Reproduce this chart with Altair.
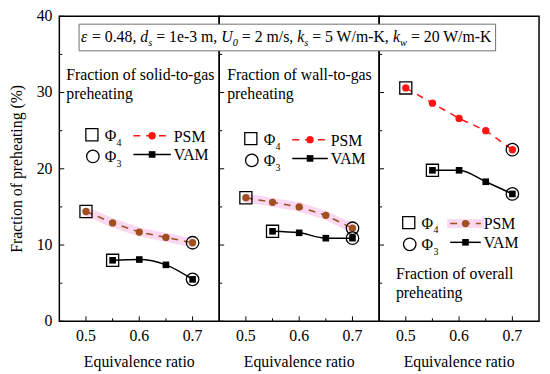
import altair as alt
import pandas as pd

# ---------------- data ----------------
phi = [0.5, 0.55, 0.6, 0.65, 0.7]
psm_solid = [14.4, 12.9, 11.7, 11.0, 10.3]
vam_solid = [8.0, 8.1, 7.4, 5.5]          # phi = 0.55 ... 0.7
psm_wall = [16.2, 15.6, 15.0, 13.9, 12.2]
vam_wall = [11.8, 11.6, 10.9, 10.9]
psm_overall = [30.6, 28.6, 26.6, 25.0, 22.5]
vam_overall = [19.8, 19.8, 18.3, 16.7]

x_major = [0.5, 0.6, 0.7]
x_minor = [0.55, 0.65]
y_major = [0, 10, 20, 30, 40]
y_minor = [5, 15, 25, 35]

panel_text = [["Fraction of solid-to-gas", "preheating"],
              ["Fraction of wall-to-gas", "preheating"],
              ["Fraction of overall", "preheating"]]
series_names = ["PSM", "VAM"]
marker_names = [("Φ", "4"), ("Φ", "3")]
x_title = "Equivalence ratio"
y_title = "Fraction of preheating (%)"
# annotation: (text, subscript?, italic?)
ann_parts = [("ε", False, True), (" = 0.48, ", False, False),
             ("d", False, True), ("s", True, True), (" = 1e-3 m, ", False, False),
             ("U", False, True), ("0", True, True), (" = 2 m/s, ", False, False),
             ("k", False, True), ("s", True, True), (" = 5 W/m-K, ", False, False),
             ("k", False, True), ("w", True, True), (" = 20 W/m-K", False, False)]

# ---------------- style ----------------
W, H = 162, 309
FONT = "Liberation Serif"
BROWN = "#a0501e"
RED = "#ff1414"
PINK = "#fbd8f1"

# Times / Liberation Serif advance widths (per 1000 em) used to place annotation pieces
CW = {" ": 250, ",": 250, ".": 250, "-": 333, "/": 278, "=": 564, "e": 444, "m": 778,
      "s": 389, "W": 944, "K": 722, "U": 722, "d": 500, "k": 444, "w": 667, "ε": 440}


def text_width(s, size):
    return sum(CW.get(c, 500) for c in s) * size / 1000.0


xs = alt.Scale(domain=[0.45, 0.75], nice=False, zero=False)
ys = alt.Scale(domain=[0, 40], nice=False)
one = pd.DataFrame({"d": [0]})


def txt(s, x, y, size=16, italic=False, color="black", align="left", angle=0, baseline="alphabetic"):
    return alt.Chart(one).mark_text(
        text=s, font=FONT, fontSize=size, align=align, baseline=baseline, angle=angle,
        fontStyle="italic" if italic else "normal", color=color
    ).encode(x=alt.value(x), y=alt.value(y))


def legend(ox, oy, line_len, color, pink):
    L = []
    L.append(alt.Chart(one).mark_point(shape="square", size=150, filled=False, color="black",
                                       strokeWidth=1.3, opacity=1).encode(x=alt.value(ox), y=alt.value(oy)))
    L.append(alt.Chart(one).mark_point(shape="circle", size=160, filled=False, color="black",
                                       strokeWidth=1.3, opacity=1).encode(x=alt.value(ox + 1), y=alt.value(oy + 22)))
    L.append(txt(marker_names[0][0], ox + 13, oy + 6))
    L.append(txt(marker_names[0][1], ox + 25, oy + 11, size=10))
    L.append(txt(marker_names[1][0], ox + 13, oy + 28))
    L.append(txt(marker_names[1][1], ox + 25, oy + 33, size=10))
    lx0 = ox + 42
    lx1 = lx0 + line_len
    if pink:
        L.append(alt.Chart(one).mark_rule(color=PINK, strokeWidth=9).encode(
            x=alt.value(lx0 - 3), x2=alt.value(lx1 + 3), y=alt.value(oy + 1)))
    L.append(alt.Chart(one).mark_rule(color=color, strokeWidth=1.5, strokeDash=[7, 6]).encode(
        x=alt.value(lx0), x2=alt.value(lx1), y=alt.value(oy + 1)))
    L.append(alt.Chart(one).mark_point(shape="circle", size=55, filled=True, color=color, opacity=1).encode(
        x=alt.value((lx0 + lx1) / 2), y=alt.value(oy + 1)))
    L.append(txt(series_names[0], lx1 + 3, oy + 7))
    L.append(alt.Chart(one).mark_rule(color="black", strokeWidth=1.5).encode(
        x=alt.value(lx0), x2=alt.value(lx1), y=alt.value(oy + 20)))
    L.append(alt.Chart(one).mark_point(shape="square", size=45, filled=True, color="black", opacity=1).encode(
        x=alt.value((lx0 + lx1) / 2), y=alt.value(oy + 20)))
    L.append(txt(series_names[1], lx1 + 3, oy + 26))
    return L


def panel(psm, vam, k, psm_color, leg_color, band, leg_pos, leg_len, text_pos, first, extra=None):
    psm_df = pd.DataFrame({"phi": phi, "v": psm})
    vam_df = pd.DataFrame({"phi": phi[1:], "v": vam})
    sq_df = pd.DataFrame({"phi": [phi[0], phi[1]], "v": [psm[0], vam[0]]})
    ci_df = pd.DataFrame({"phi": [phi[-1], phi[-1]], "v": [psm[-1], vam[-1]]})

    X = alt.X("phi:Q", scale=xs, axis=None)
    Y = alt.Y("v:Q", scale=ys, axis=None)

    layers = []
    if band:
        layers.append(alt.Chart(psm_df).mark_line(color=PINK, strokeWidth=9).encode(x=X, y=Y))
    layers.append(alt.Chart(psm_df).mark_line(color=psm_color, strokeWidth=1.5, strokeDash=[7, 6]).encode(x=X, y=Y))
    layers.append(alt.Chart(psm_df).mark_point(shape="circle", size=55, filled=True, color=psm_color, opacity=1).encode(x=X, y=Y))
    layers.append(alt.Chart(vam_df).mark_line(color="black", strokeWidth=1.5, interpolate="monotone").encode(x=X, y=Y))
    layers.append(alt.Chart(vam_df).mark_point(shape="square", size=45, filled=True, color="black", opacity=1).encode(x=X, y=Y))
    layers.append(alt.Chart(sq_df).mark_point(shape="square", size=150, filled=False, color="black", strokeWidth=1.3, opacity=1).encode(x=X, y=Y))
    layers.append(alt.Chart(ci_df).mark_point(shape="circle", size=160, filled=False, color="black", strokeWidth=1.3, opacity=1).encode(x=X, y=Y))

    # inward ticks
    layers.append(alt.Chart(pd.DataFrame({"v": y_major})).mark_rule(color="black", strokeWidth=1).encode(
        y=Y, x=alt.value(0), x2=alt.value(5)))
    layers.append(alt.Chart(pd.DataFrame({"v": y_minor})).mark_rule(color="black", strokeWidth=1).encode(
        y=Y, x=alt.value(0), x2=alt.value(3)))
    layers.append(alt.Chart(pd.DataFrame({"phi": x_major})).mark_rule(color="black", strokeWidth=1).encode(
        x=X, y=alt.value(H), y2=alt.value(H - 5)))
    layers.append(alt.Chart(pd.DataFrame({"phi": x_minor})).mark_rule(color="black", strokeWidth=1).encode(
        x=X, y=alt.value(H), y2=alt.value(H - 3)))

    # axis labels and titles (serif, as in the reference)
    layers.append(alt.Chart(pd.DataFrame({"phi": x_major})).mark_text(
        font=FONT, fontSize=16, color="black", baseline="alphabetic", align="center").encode(
        x=X, y=alt.value(H + 20), text=alt.Text("phi:Q", format=".1f")))
    layers.append(txt(x_title, W / 2, H + 46, align="center"))
    if first:
        layers.append(alt.Chart(pd.DataFrame({"v": y_major})).mark_text(
            font=FONT, fontSize=16, color="black", baseline="middle", align="right").encode(
            y=Y, x=alt.value(-7), text=alt.Text("v:Q", format="d")))
        layers.append(txt(y_title, -43, H / 2, align="center", angle=270, baseline="middle"))

    tx, ty = text_pos
    layers.append(txt(panel_text[k][0], tx, ty))
    layers.append(txt(panel_text[k][1], tx, ty + 19))
    layers += legend(leg_pos[0], leg_pos[1], leg_len, leg_color, leg_color == BROWN)
    if extra:
        layers += extra
    return alt.layer(*layers).properties(width=W, height=H)


# ---------------- annotation box (drawn in the last panel, page x0 = 383, y0 = 13) ----------------
OX, OY = 383, 13
ann = [alt.Chart(one).mark_rect(fill="white", stroke="#6f6f6f", strokeWidth=1).encode(
    x=alt.value(79 - OX), x2=alt.value(501 - OX), y=alt.value(21 - OY), y2=alt.value(48 - OY))]
cx = 81 - OX
for s, sub, it in ann_parts:
    size = 10.5 if sub else 16
    s_draw = s.strip() if not sub else s
    lead = text_width(s[:len(s) - len(s.lstrip())], size)
    ann.append(txt(s_draw, cx + lead, (43 if sub else 39) - OY, size=size, italic=it))
    cx += text_width(s, size)

p1 = panel(psm_solid, vam_solid, 0, BROWN, RED, True, (33, 120), 38, (7, 65), True)
p2 = panel(psm_wall, vam_wall, 1, BROWN, RED, True, (32, 124), 36, (8, 65), False)
p3 = panel(psm_overall, vam_overall, 2, RED, BROWN, False, (30, 209), 31, (17, 266), False, extra=ann)

chart = alt.hconcat(p1, p2, p3, spacing=0, bounds="flush").properties(
    padding={"left": 0, "top": -3, "right": 2, "bottom": 0}
).configure_view(stroke="black", strokeWidth=1.5)

chart.save("out.html", embed_options={"renderer": "svg", "actions": False})
